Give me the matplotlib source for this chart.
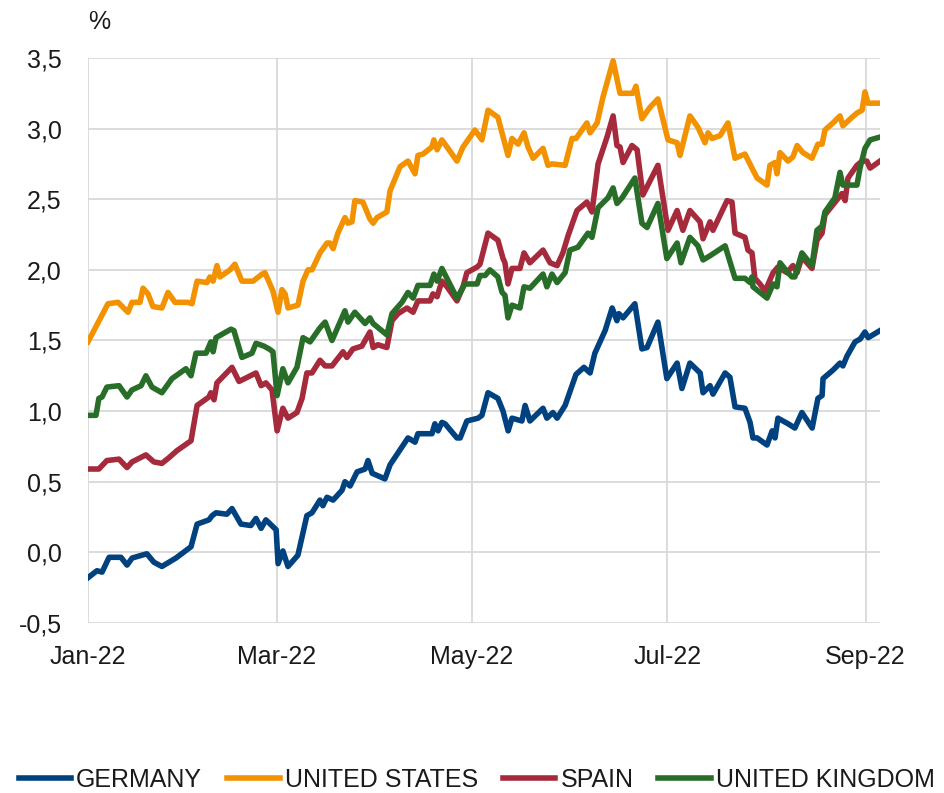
import pandas as pd
import matplotlib
matplotlib.use("Agg")
import matplotlib.pyplot as plt
import matplotlib.dates as mdates
from matplotlib.ticker import FuncFormatter

plt.rcParams['font.family'] = ['Liberation Sans', 'DejaVu Sans']

START = pd.Timestamp('2022-01-01')

# (days since 1 Jan 2022, yield %)
germany = [(0, -0.18), (2.8, -0.13), (4.4, -0.14), (6.6, -0.035), (10.3, -0.035), (12.2, -0.09),
           (13.8, -0.04), (18.4, -0.01), (20.6, -0.07), (23.1, -0.10), (27.5, -0.04), (32.2, 0.04),
           (34.1, 0.20), (37.8, 0.23), (38.8, 0.26), (40, 0.28), (43.4, 0.27), (45, 0.31),
           (47.8, 0.20), (50.9, 0.19), (52.5, 0.24), (54.1, 0.17), (55.6, 0.23), (58.8, 0.16),
           (59.4, -0.08), (60.9, 0.01), (62.5, -0.10), (65.6, -0.02), (68.4, 0.26), (70, 0.28),
           (72.5, 0.37), (73.4, 0.33), (74.7, 0.39), (76.6, 0.37), (79.4, 0.44), (80.3, 0.50),
           (81.9, 0.47), (84.1, 0.57), (86.6, 0.59), (87.5, 0.65), (88.8, 0.56), (92.8, 0.52),
           (94.4, 0.62), (100, 0.81), (102.2, 0.78), (103.1, 0.84), (107.5, 0.84), (108.4, 0.91),
           (109.4, 0.86), (110.6, 0.92), (111.6, 0.91), (115.3, 0.81), (116.3, 0.81), (118.4, 0.93),
           (121.9, 0.95), (123.1, 0.97), (125, 1.13), (128.1, 1.09), (129.7, 1.00), (131.3, 0.86),
           (132.5, 0.95), (135.6, 0.93), (136.6, 1.04), (138.1, 0.93), (142.2, 1.02), (143.4, 0.95),
           (145.3, 0.99), (146.6, 0.95), (149.1, 1.04), (152.5, 1.26), (155, 1.31), (156.9, 1.27),
           (158.4, 1.41), (161.6, 1.57), (163.8, 1.73), (165.3, 1.64), (165.9, 1.69), (167.2, 1.66),
           (170.9, 1.76), (173.1, 1.44), (174.7, 1.45), (178.1, 1.63), (180.9, 1.23), (184.1, 1.34),
           (185.6, 1.16), (188.1, 1.34), (191.3, 1.27), (192.2, 1.13), (194.4, 1.18), (195.3, 1.12),
           (199.1, 1.27), (200.6, 1.24), (202.2, 1.03), (205.3, 1.02), (206.9, 0.92), (207.8, 0.81),
           (209.1, 0.81), (212.2, 0.76), (213.8, 0.86), (214.7, 0.81), (215.6, 0.95), (218.8, 0.91),
           (220.9, 0.88), (223.1, 0.99), (226.3, 0.88), (228.1, 1.09), (229.4, 1.11), (229.7, 1.23),
           (232.8, 1.29), (235, 1.34), (235.9, 1.32), (237.2, 1.39), (239.7, 1.49), (241.3, 1.51),
           (242.8, 1.56), (243.8, 1.52), (247.5, 1.57)]

united_states = [(0, 1.49), (6.25, 1.76), (9.4, 1.77), (12.5, 1.70), (13.75, 1.77), (16.25, 1.77),
                 (17.2, 1.87), (18.75, 1.83), (20.3, 1.74), (23.1, 1.73), (25, 1.84), (27.2, 1.77),
                 (31.25, 1.77), (32.5, 1.76), (34.1, 1.92), (37.2, 1.91), (38.1, 1.95), (39.1, 1.92),
                 (40.3, 2.03), (41.25, 1.95), (44.4, 2.0), (45.9, 2.04), (48.1, 1.92), (51.6, 1.92),
                 (54.4, 1.97), (55.3, 1.98), (57.8, 1.85), (59.4, 1.70), (60.6, 1.86), (61.6, 1.83),
                 (62.5, 1.73), (65.6, 1.75), (67.2, 1.92), (68.75, 2.0), (70, 2.0), (72.5, 2.12),
                 (74.7, 2.19), (75.6, 2.19), (76.6, 2.15), (78.1, 2.26), (80.3, 2.37), (81.25, 2.33),
                 (82.5, 2.34), (83.4, 2.49), (85.9, 2.48), (88.1, 2.36), (89.1, 2.33), (90.3, 2.37),
                 (93.4, 2.41), (94.4, 2.56), (96.6, 2.68), (97.5, 2.73), (100, 2.77), (102.2, 2.68),
                 (103.1, 2.81), (104.7, 2.82), (107.5, 2.87), (108.1, 2.92), (109.1, 2.85), (110.6, 2.92),
                 (112.5, 2.86), (115.3, 2.77), (117.2, 2.87), (118.75, 2.92), (120.9, 2.99), (123.1, 2.92),
                 (125, 3.13), (128.1, 3.08), (131.25, 2.81), (132.5, 2.93), (134.4, 2.89), (136.25, 2.97),
                 (137.5, 2.87), (139.1, 2.79), (142.2, 2.86), (143.75, 2.74), (145, 2.75), (149.1, 2.74),
                 (151.25, 2.93), (152.5, 2.93), (155.9, 3.04), (156.9, 2.97), (159.1, 3.04), (160.9, 3.22),
                 (164.1, 3.48), (166.25, 3.25), (170.3, 3.25), (171.25, 3.30), (173.1, 3.07), (175.6, 3.15),
                 (178.1, 3.21), (181.25, 2.92), (184.1, 2.90), (185, 2.81), (188.1, 3.09), (190.6, 3.01),
                 (192.8, 2.90), (193.75, 2.97), (195, 2.93), (197.5, 2.95), (200, 3.04), (202.2, 2.79),
                 (205.3, 2.82), (207.5, 2.72), (209.1, 2.65), (212.2, 2.60), (213.1, 2.74), (214.7, 2.76),
                 (215.3, 2.68), (216.25, 2.83), (218.75, 2.77), (220.3, 2.80), (221.6, 2.88), (223.4, 2.83),
                 (226.25, 2.79), (228.1, 2.89), (229.4, 2.89), (230.3, 2.99), (232.8, 3.04), (235, 3.09),
                 (235.9, 3.02), (238.75, 3.08), (240.3, 3.11), (241.9, 3.13), (242.8, 3.26), (243.75, 3.18),
                 (247.5, 3.18)]

spain = [(0, 0.59), (3.4, 0.59), (5.9, 0.65), (9.7, 0.66), (12.2, 0.60), (13.75, 0.64), (18.1, 0.69),
         (20.6, 0.64), (23.1, 0.63), (25.3, 0.67), (27.8, 0.72), (32.2, 0.79), (34.1, 1.04), (37.8, 1.10),
         (38.4, 1.13), (39.4, 1.08), (40.3, 1.20), (45, 1.31), (47.2, 1.21), (52.5, 1.27), (54.1, 1.18),
         (55.6, 1.20), (57.5, 1.15), (59.1, 0.86), (60.9, 1.02), (62.5, 0.95), (65.3, 0.99), (66.9, 1.09),
         (68.4, 1.27), (70, 1.27), (72.5, 1.36), (74.1, 1.32), (76.25, 1.32), (79.7, 1.42), (80.9, 1.38),
         (82.8, 1.44), (85.6, 1.46), (88.1, 1.56), (89.1, 1.45), (90.6, 1.47), (93.4, 1.45), (95, 1.64),
         (96.9, 1.69), (99.7, 1.73), (101.6, 1.70), (103.1, 1.78), (106.9, 1.78), (107.8, 1.83),
         (109.1, 1.81), (110.6, 1.92), (112.2, 1.88), (115.3, 1.78), (117.2, 1.88), (118.4, 1.98),
         (121.6, 2.02), (122.5, 2.04), (125, 2.26), (128.1, 2.21), (129.7, 2.08), (130.3, 2.05),
         (131.25, 1.90), (132.5, 2.01), (135, 2.01), (136.25, 2.12), (138.1, 2.05), (142.2, 2.14),
         (144.4, 2.05), (146.6, 2.03), (148.4, 2.12), (150, 2.24), (152.8, 2.42), (155.9, 2.48),
         (157.5, 2.41), (159.4, 2.75), (162.2, 2.94), (164.1, 3.09), (165.3, 2.88), (166.25, 2.87),
         (167.2, 2.76), (170, 2.88), (171.6, 2.85), (173.4, 2.53), (178.1, 2.74), (181.25, 2.28),
         (184.1, 2.42), (185.9, 2.28), (188.1, 2.42), (191.25, 2.34), (192.2, 2.22), (194.4, 2.34),
         (195.3, 2.28), (199.7, 2.49), (201.25, 2.48), (202.2, 2.26), (205.3, 2.23), (206.25, 2.14),
         (207.5, 2.12), (208.4, 1.94), (210, 1.90), (211.6, 1.85), (214.1, 1.98), (215.6, 2.02),
         (218.4, 1.98), (220.3, 2.03), (221.6, 1.98), (223.1, 2.09), (226.25, 2.01), (227.8, 2.21),
         (229.4, 2.26), (230.3, 2.39), (232.8, 2.46), (235.6, 2.54), (236.6, 2.49), (237.5, 2.65),
         (240.3, 2.74), (241.9, 2.77), (243.4, 2.77), (244.4, 2.72), (247.5, 2.77)]

united_kingdom = [(0, 0.97), (2.5, 0.97), (3.4, 1.09), (4.4, 1.10), (5.9, 1.17), (9.7, 1.18), (12.2, 1.10),
                  (13.75, 1.15), (16.6, 1.18), (18.1, 1.25), (20, 1.17), (23.1, 1.13), (26.25, 1.23),
                  (30.6, 1.30), (32.2, 1.25), (33.75, 1.41), (36.9, 1.41), (38.4, 1.49), (39.1, 1.42),
                  (40, 1.52), (44.7, 1.58), (45.6, 1.57), (48.1, 1.38), (51.25, 1.41), (52.5, 1.48),
                  (55, 1.46), (56.6, 1.44), (57.8, 1.42), (59.1, 1.11), (60.9, 1.30), (62.5, 1.20),
                  (65.3, 1.31), (67.2, 1.52), (69.4, 1.49), (72.5, 1.59), (74.1, 1.63), (76.25, 1.50),
                  (80.3, 1.71), (81.25, 1.63), (83.4, 1.70), (86.6, 1.62), (88.1, 1.66), (89.1, 1.62),
                  (93.4, 1.54), (95, 1.69), (98.1, 1.77), (100, 1.84), (101.6, 1.80), (103.1, 1.89),
                  (106.9, 1.89), (108.1, 1.97), (109.1, 1.92), (110.6, 2.01), (115.3, 1.80), (117.8, 1.90),
                  (121.6, 1.90), (122.5, 1.96), (124.1, 1.96), (125.6, 2.0), (128.1, 1.95), (129.4, 1.84),
                  (130.3, 1.82), (131.25, 1.66), (132.5, 1.75), (135, 1.73), (136.25, 1.88), (138.1, 1.87),
                  (142.2, 1.97), (143.4, 1.88), (145, 1.97), (146.6, 1.91), (149.1, 1.98), (150.6, 2.14),
                  (153.1, 2.16), (156.25, 2.26), (157.5, 2.23), (159.4, 2.44), (162.5, 2.51), (164.1, 2.58),
                  (165.3, 2.47), (166.9, 2.51), (170.9, 2.65), (173.1, 2.33), (174.7, 2.30), (178.1, 2.47),
                  (180.9, 2.08), (184.1, 2.19), (185.3, 2.05), (188.1, 2.23), (190.6, 2.17), (192.2, 2.07),
                  (194.4, 2.10), (199.1, 2.17), (202.2, 1.94), (205.3, 1.94), (206.9, 1.91), (207.5, 1.95),
                  (207.8, 1.88), (212.2, 1.80), (214.1, 1.90), (215.3, 1.88), (216.25, 2.05), (218.75, 1.98),
                  (220, 1.95), (220.9, 1.95), (223.1, 2.12), (226.25, 2.03), (227.8, 2.28), (229.4, 2.31),
                  (230.3, 2.41), (233.4, 2.51), (235, 2.69), (235.9, 2.60), (240.3, 2.60), (241.25, 2.72),
                  (242.8, 2.86), (244.4, 2.92), (247.5, 2.94)]

series_names = ['GERMANY', 'UNITED STATES', 'SPAIN', 'UNITED KINGDOM']
series_data = [germany, united_states, spain, united_kingdom]
colors = ['#00427f', '#f39200', '#a52a3c', '#286e28']

y_ticks = [-0.5, 0.0, 0.5, 1.0, 1.5, 2.0, 2.5, 3.0, 3.5]
x_ticks = ['2022-01-01', '2022-03-01', '2022-05-01', '2022-07-01', '2022-09-01']
x_end = 247.5


def to_dates(days):
    return START + pd.to_timedelta(days, unit='D')


fig = plt.figure(figsize=(9.44, 7.93), dpi=100)
ax = fig.add_axes([0.0932, 0.2144, 0.8390, 0.7125])

for name, data, c in zip(series_names, series_data, colors):
    d = [p[0] for p in data]
    v = [p[1] for p in data]
    ax.plot(to_dates(d), v, color=c, lw=4.0, label=name, solid_joinstyle='round')

ax.set_ylim(-0.5, 3.5)
ax.set_xlim(START, to_dates(x_end))
ax.set_yticks(y_ticks)
ax.yaxis.set_major_formatter(FuncFormatter(lambda v, p: f'{v:.1f}'.replace('.', ',')))
ax.set_xticks(pd.to_datetime(x_ticks))
ax.xaxis.set_major_formatter(mdates.DateFormatter('%b-%y'))

# no frame, only the light grid
for s in ax.spines.values():
    s.set_visible(False)
ax.grid(True, color='#d9d9d9', lw=1.3)
ax.set_axisbelow(True)
ax.tick_params(length=0, labelsize=18, colors='#1a1a1a')
ax.tick_params(axis='y', pad=19)
ax.tick_params(axis='x', pad=16)

fig.text(0.093, 0.972, '%', fontsize=18, color='#1a1a1a', ha='left', va='center')

fig.legend(loc='center', bbox_to_anchor=(0.505, 0.017), ncol=4, frameon=False,
           fontsize=18, handlelength=2.1, handletextpad=0.2, columnspacing=1.0,
           labelcolor='#1a1a1a')

fig.savefig('out.png', dpi=100)
